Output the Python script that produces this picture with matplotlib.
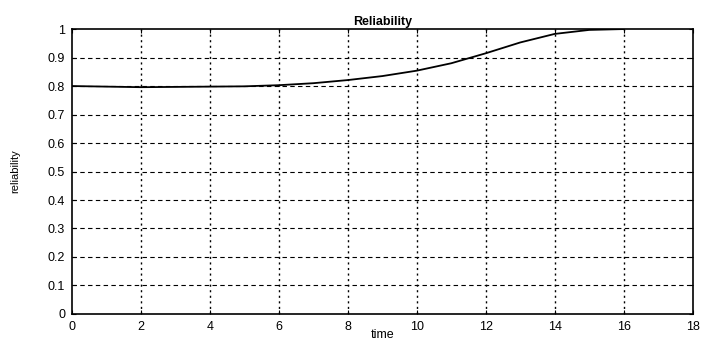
import numpy as np
import matplotlib
matplotlib.use("Agg")
import matplotlib.pyplot as plt

plt.rcParams['font.family'] = ['Liberation Sans', 'DejaVu Sans']

# reliability curve
time = [0, 1, 2, 3, 4, 5, 6, 7, 8, 9, 10, 11, 12, 13, 14, 15, 16]
reliability = [0.800, 0.798, 0.796, 0.797, 0.798, 0.799, 0.803, 0.810, 0.821,
               0.835, 0.854, 0.880, 0.915, 0.953, 0.983, 0.997, 1.000]

xticks = [0, 2, 4, 6, 8, 10, 12, 14, 16, 18]
yticks = [0, 0.1, 0.2, 0.3, 0.4, 0.5, 0.6, 0.7, 0.8, 0.9, 1]
ytick_labels = ["0", "0.1", "0.2", "0.3", "0.4", "0.5", "0.6", "0.7", "0.8", "0.9", "1"]

fig = plt.figure(figsize=(7.02, 3.42), dpi=100)
ax = fig.add_axes([0.1026, 0.082, 0.884, 0.833])

ax.plot(time, reliability, color="black", linewidth=1.3)

ax.set_xlim(0, 18)
ax.set_ylim(0, 1)
ax.set_xticks(xticks)
ax.set_yticks(yticks)
ax.set_yticklabels(ytick_labels)

# matlab-like grid: dotted verticals, dashed horizontals
for xv in xticks[1:-1]:
    ax.axvline(xv, color="black", linestyle=(0, (1.5, 2.5)), linewidth=1.0, zorder=0)
for yv in yticks[1:-1]:
    ax.axhline(yv, color="black", linestyle=(0, (4, 3)), linewidth=0.8, zorder=0)

ax.tick_params(direction="in", top=True, right=True, labelsize=9, length=3, pad=5)
for s in ax.spines.values():
    s.set_linewidth(1.2)

ax.set_title("Reliability", fontsize=9, fontweight="bold", pad=3)
ax.set_xlabel("time", fontsize=9, labelpad=-3)
ax.set_ylabel("reliability", fontsize=8, labelpad=20)

fig.savefig("out.png", dpi=100)
